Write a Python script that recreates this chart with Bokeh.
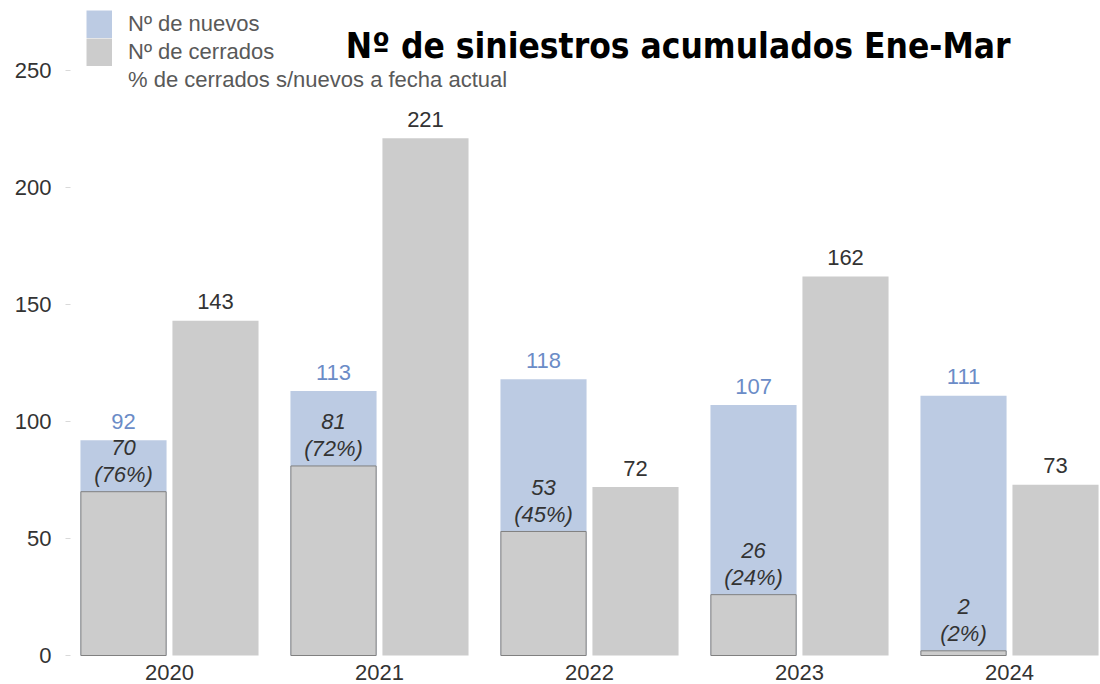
from bokeh.plotting import figure
from bokeh.models import ColumnDataSource, Range1d, FixedTicker, Label, Legend, LegendItem
from bokeh.embed import file_html
from bokeh.resources import INLINE
from bokeh.core.properties import value

years = ["2020", "2021", "2022", "2023", "2024"]
nuevos = [92, 113, 118, 107, 111]
cerrados_de_nuevos = [70, 81, 53, 26, 2]
pct_cerrados = [76, 72, 45, 24, 2]
cerrados_total = [143, 221, 72, 162, 73]
y_ticks = [0, 50, 100, 150, 200, 250]

FONT = "Liberation Sans"
BLUE = "#bccbe3"
GRAY = "#cccccc"
NAN = float("nan")

pos = list(range(len(years)))
off = 0.219
bw = 0.41

src = ColumnDataSource(dict(
    xn=[i - off for i in pos],
    xt=[i + off for i in pos],
    xc=pos,
    nuevos=nuevos,
    cdn=cerrados_de_nuevos,
    tot=cerrados_total,
    nuevos_txt=[str(v) for v in nuevos],
    tot_txt=[str(v) for v in cerrados_total],
    cdn_txt=[str(v) for v in cerrados_de_nuevos],
    pct_txt=["(%d%%)" % v for v in pct_cerrados],
    year=years,
    zero=[0] * len(years),
))

p = figure(width=1100, height=684,
           x_range=Range1d(-0.4714, 4.4333), y_range=Range1d(-12.39, 279.9),
           output_backend="svg", toolbar_location=None, x_axis_location=None,
           min_border_left=70, min_border_right=0, min_border_top=0, min_border_bottom=0)
p.outline_line_color = None
p.xgrid.visible = False
p.ygrid.visible = False

ax = p.yaxis[0]
ax.ticker = FixedTicker(ticks=y_ticks)
ax.axis_line_color = None
ax.major_tick_in = 0
ax.major_tick_out = 5
ax.major_tick_line_color = "#d9d9d9"
ax.minor_tick_line_color = None
ax.major_label_text_font_size = "22px"
ax.major_label_text_font = FONT
ax.major_label_text_color = "#333333"
ax.major_label_standoff = 14

r_new = p.vbar(x="xn", top="nuevos", bottom=0, width=bw, source=src,
               fill_color=BLUE, line_color=None)
r_cdn = p.vbar(x="xn", top="cdn", bottom=0, width=bw - 0.004, source=src,
               fill_color=GRAY, line_color="#808080", line_width=1)
r_tot = p.vbar(x="xt", top="tot", bottom=0, width=bw, source=src,
               fill_color=GRAY, line_color=None)

# legend proxies (no visible data): thick lines give full, contiguous swatches
lg_new = p.line(x=[NAN], y=[NAN], line_color=BLUE, line_width=28, line_cap="butt")
lg_tot = p.line(x=[NAN], y=[NAN], line_color=GRAY, line_width=28, line_cap="butt")
lg_blank = p.line(x=[NAN], y=[NAN], line_alpha=0)

common = dict(source=src, text_align="center", text_baseline="middle",
              text_font=value(FONT), text_font_size="22px")
p.text(x="xn", y="nuevos", text="nuevos_txt", y_offset=-19, text_color="#6b8cc7", **common)
p.text(x="xt", y="tot", text="tot_txt", y_offset=-19, text_color="#333333", **common)
p.text(x="xn", y="cdn", text="cdn_txt", y_offset=-44, text_color="#333333",
       text_font_style="italic", **common)
p.text(x="xn", y="cdn", text="pct_txt", y_offset=-17, text_color="#333333",
       text_font_style="italic", **common)
p.text(x="xc", y="zero", text="year", y_offset=17, text_color="#333333", **common)

legend = Legend(items=[
    LegendItem(label="Nº de nuevos", renderers=[lg_new]),
    LegendItem(label="Nº de cerrados", renderers=[lg_tot]),
    LegendItem(label="% de cerrados s/nuevos a fecha actual", renderers=[lg_blank]),
], location=(16, 590), orientation="vertical", glyph_width=26, glyph_height=28,
    spacing=0, padding=0, margin=0, label_standoff=16, label_height=28,
    label_text_font_size="22px", label_text_color="#595959", label_text_font=FONT,
    border_line_color=None, background_fill_alpha=0)
p.add_layout(legend)

title = Label(x=940, y=639, x_units="screen", y_units="screen",
              text="Nº de siniestros acumulados Ene-Mar",
              text_font="'DejaVu Sans Condensed', 'Liberation Sans Narrow', Roboto, sans-serif",
              text_font_style="bold",
              text_font_size="35px", text_align="right", text_baseline="alphabetic",
              text_color="#000000")
p.add_layout(title)

open("out.html", "w").write(file_html(p, INLINE))
